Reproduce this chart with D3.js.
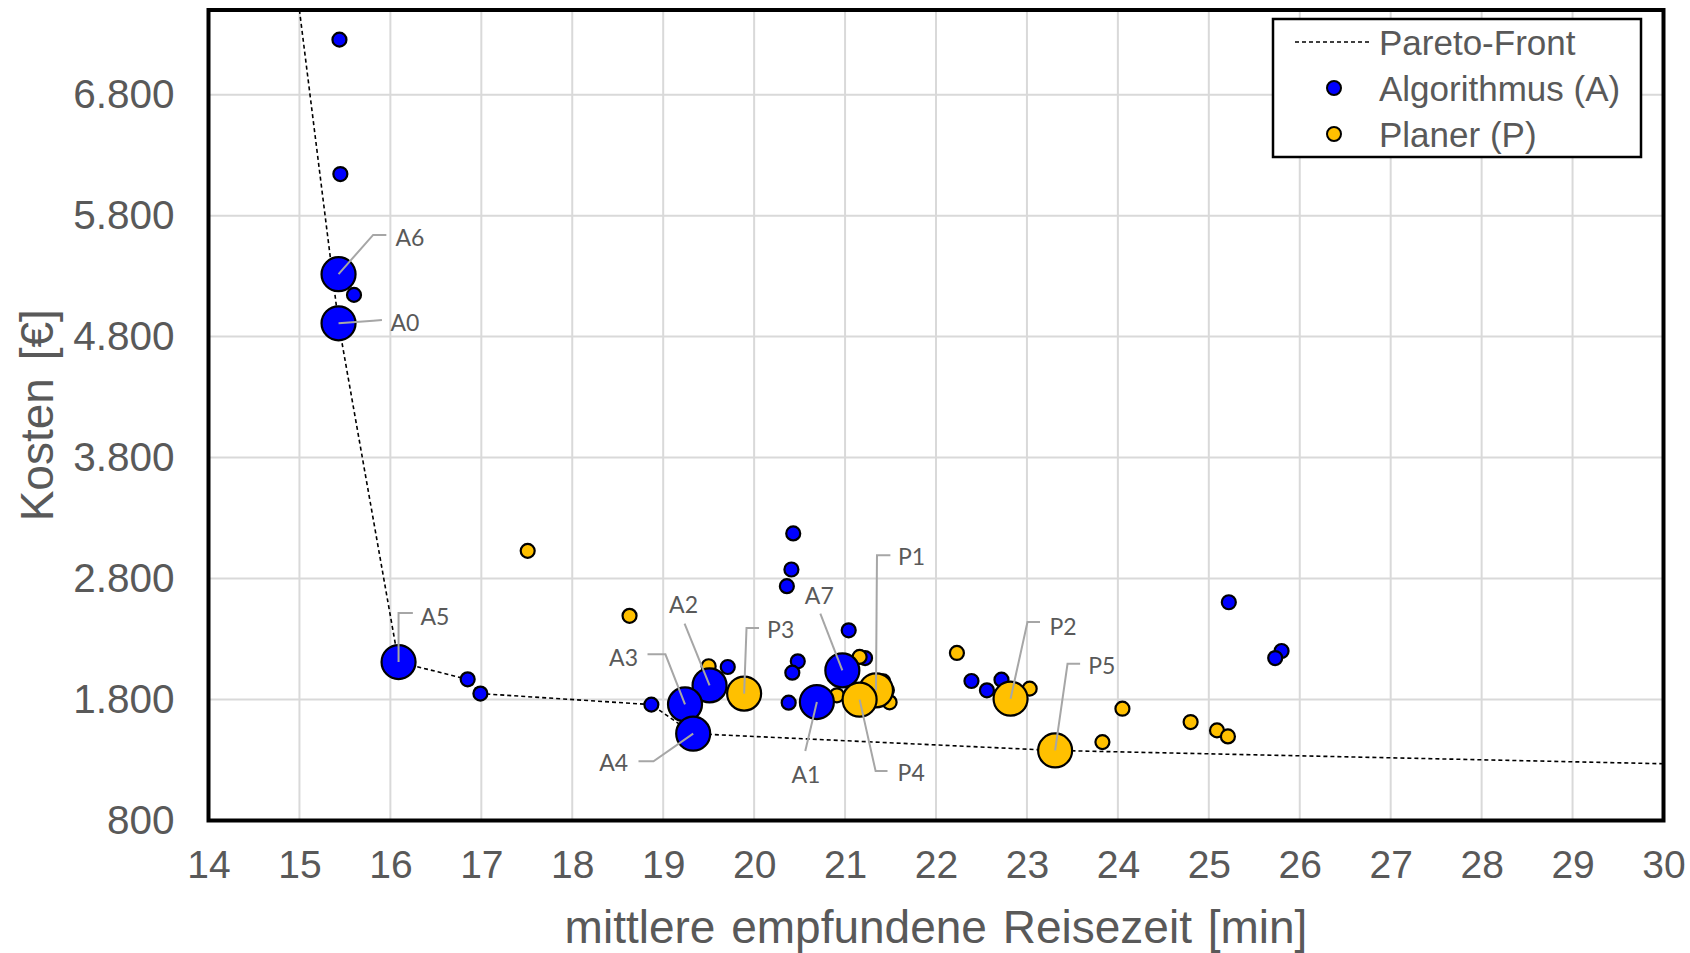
<!DOCTYPE html>
<html>
<head>
<meta charset="utf-8">
<script src="https://cdn.jsdelivr.net/npm/d3@7"></script>
<style>
  body { margin: 0; background: #ffffff; }
  svg { display: block; }
</style>
</head>
<body>
<svg id="chart"></svg>
<script>
const width = 1690;
const height = 953;
const margin = {top: 10, right: 26.5, bottom: 132.5, left: 208.5};

// Achsen
const xTicks = [14, 15, 16, 17, 18, 19, 20, 21, 22, 23, 24, 25, 26, 27, 28, 29, 30];
const yTicks = [800, 1800, 2800, 3800, 4800, 5800, 6800];

// Algorithmus (A) - unbeschriftete Lösungen
const algoTime = [15.44, 15.45, 15.60, 16.85, 16.99, 18.87, 19.71, 20.36, 20.41, 20.43, 20.48, 20.42, 20.38, 21.04, 21.22, 22.39, 22.56, 22.72, 25.22, 25.80, 25.73];
const algoCost = [7255, 6144, 5145, 1967, 1849, 1758, 2069, 2737, 2875, 3173, 2116, 2022, 1774, 2372, 2143, 1953, 1876, 1964, 2604, 2201, 2143];

// Planer (P) - unbeschriftete Lösungen
const planerTime = [17.51, 18.63, 19.50, 21.16, 20.91, 21.42, 21.49, 21.46, 22.23, 23.03, 23.83, 24.05, 24.80, 25.09, 25.21];
const planerCost = [3029, 2492, 2075, 2152, 1835, 1950, 1777, 1876, 2185, 1890, 1448, 1724, 1614, 1545, 1495];

// beschriftete Lösungen
const algoNames = ["A0", "A1", "A2", "A3", "A4", "A5", "A6", "A7"];
const algoNamedTime = [15.43, 20.69, 19.51, 19.24, 19.33, 16.09, 15.43, 20.97];
const algoNamedCost = [4910, 1779, 1917, 1760, 1518, 2110, 5316, 2041];

const planerNames = ["P1", "P2", "P3", "P4", "P5"];
const planerNamedTime = [21.34, 22.82, 19.89, 21.16, 23.31];
const planerNamedCost = [1876, 1807, 1849, 1799, 1379];

// Pareto-Front
const paretoTime = [15.0, 15.43, 16.09, 16.85, 16.99, 18.87, 19.33, 23.31, 30];
const paretoCost = [7500, 4910, 2110, 1967, 1849, 1758, 1518, 1379, 1269];

// Lage der Beschriftungen (Pixel relativ zum Punkt)
const callouts = {
    A6: {line: [[34.6, -39.3], [47.8, -39.3]], tx: 57, ty: -37, anchor: "start"},
    A0: {line: [[34.6, -2.6], [43.4, -3.3]], tx: 52, ty: -1, anchor: "start"},
    A5: {line: [[0, -49], [14.3, -49]], tx: 22, ty: -46, anchor: "start"},
    A2: {line: [[-25, -61.7]], tx: -26, ty: -81, anchor: "middle"},
    A3: {line: [[-19.6, -50], [-37.5, -50]], tx: -47, ty: -47, anchor: "end"},
    A4: {line: [[-39.7, 27.7], [-54.7, 27.7]], tx: -65, ty: 28, anchor: "end"},
    P3: {line: [[2.4, -65.6], [14.9, -65.6]], tx: 23, ty: -65, anchor: "start"},
    A7: {line: [[-22, -56.7]], tx: -23, ty: -75, anchor: "middle"},
    P1: {line: [[1, -135], [14.4, -135]], tx: 22, ty: -134, anchor: "start"},
    A1: {line: [[-11.6, 49]], tx: -11, ty: 72, anchor: "middle"},
    P4: {line: [[16, 71.4], [27.9, 71.4]], tx: 38, ty: 72, anchor: "start"},
    P2: {line: [[16.9, -76.6], [29.4, -76.6]], tx: 39, ty: -73, anchor: "start"},
    P5: {line: [[12.4, -86.7], [25, -86.7]], tx: 33, ty: -85, anchor: "start"}
};

const BLUE = "#0000ff";
const ORANGE = "#ffc000";
const TEXT = "#595959";
const GRID = "#d9d9d9";

const de = d3.formatLocale({decimal: ",", thousands: ".", grouping: [3], currency: ["", " €"]});
const fmtCost = de.format(",d");

const svg = d3.select("#chart").attr("width", width).attr("height", height);

const x = d3.scaleLinear().domain([14, 30]).range([margin.left, width - margin.right]);
const y = d3.scaleLinear().domain([800, 7500]).range([height - margin.bottom, margin.top]);

svg.append("defs").append("clipPath").attr("id", "plot-clip")
    .append("rect")
    .attr("x", x(14)).attr("y", y(7500))
    .attr("width", x(30) - x(14)).attr("height", y(800) - y(7500));

// Gitter
const grid = svg.append("g");
grid.selectAll(".vgrid").data(xTicks).enter().append("line")
    .attr("x1", d => x(d)).attr("x2", d => x(d))
    .attr("y1", y(800)).attr("y2", y(7500))
    .style("stroke", GRID).style("stroke-width", "2px");
grid.selectAll(".hgrid").data(yTicks).enter().append("line")
    .attr("x1", x(14)).attr("x2", x(30))
    .attr("y1", d => y(d)).attr("y2", d => y(d))
    .style("stroke", GRID).style("stroke-width", "2px");

// Achsen (nur Beschriftung, Linien übernimmt der Rahmen)
const xAxis = svg.append("g")
    .attr("transform", "translate(0," + y(800) + ")")
    .call(d3.axisBottom(x).tickValues(xTicks).tickFormat(d3.format("d")).tickSize(0).tickPadding(30));
const yAxis = svg.append("g")
    .attr("transform", "translate(" + x(14) + ",0)")
    .call(d3.axisLeft(y).tickValues(yTicks).tickFormat(fmtCost).tickSize(0).tickPadding(34));
[xAxis, yAxis].forEach(a => {
    a.select(".domain").remove();
    a.selectAll("text")
        .style("font-family", "'Liberation Sans', Arial, sans-serif")
        .style("fill", TEXT);
});
xAxis.selectAll("text").style("font-size", "39px");
yAxis.selectAll("text").style("font-size", "40.5px");

// Pareto-Front
const line = d3.line().x(d => x(d[0])).y(d => y(d[1]));
svg.append("path")
    .datum(d3.zip(paretoTime, paretoCost))
    .attr("clip-path", "url(#plot-clip)")
    .attr("d", line)
    .style("fill", "none")
    .style("stroke", "#000")
    .style("stroke-width", "1.6px")
    .style("stroke-dasharray", "4,3");

// Punkte
function drawPoints(times, costs, color, r) {
    svg.append("g").selectAll("circle")
        .data(d3.zip(times, costs))
        .enter().append("circle")
        .attr("cx", d => x(d[0]))
        .attr("cy", d => y(d[1]))
        .attr("r", r)
        .style("fill", color)
        .style("stroke", "#000")
        .style("stroke-width", "2.2px");
}
drawPoints(algoTime, algoCost, BLUE, 7);
drawPoints(planerTime, planerCost, ORANGE, 7);
drawPoints(algoNamedTime, algoNamedCost, BLUE, 17);
drawPoints(planerNamedTime, planerNamedCost, ORANGE, 17);

// Beschriftungen mit Führungslinien
const named = d3.zip(algoNames, algoNamedTime, algoNamedCost)
    .concat(d3.zip(planerNames, planerNamedTime, planerNamedCost));
const labels = svg.append("g");
named.forEach(([name, t, c]) => {
    const px = x(t), py = y(c);
    const cfg = callouts[name];
    const pts = [[px, py]].concat(cfg.line.map(p => [px + p[0], py + p[1]]));
    labels.append("path")
        .attr("d", d3.line()(pts))
        .style("fill", "none")
        .style("stroke", "#a6a6a6")
        .style("stroke-width", "2px");
    labels.append("text")
        .attr("x", px + cfg.tx)
        .attr("y", py + cfg.ty)
        .attr("text-anchor", cfg.anchor)
        .attr("dominant-baseline", "central")
        .style("font-family", "Lato, 'Open Sans', sans-serif")
        .style("font-size", "23px")
        .style("fill", TEXT)
        .text(name);
});

// Rahmen
svg.append("rect")
    .attr("x", x(14)).attr("y", y(7500))
    .attr("width", x(30) - x(14)).attr("height", y(800) - y(7500))
    .style("fill", "none")
    .style("stroke", "#000")
    .style("stroke-width", "4px");

// Achsentitel
svg.append("text")
    .attr("x", (x(14) + x(30)) / 2)
    .attr("y", 943)
    .attr("text-anchor", "middle")
    .style("font-family", "'Liberation Sans', Arial, sans-serif")
    .style("font-size", "46px")
    .style("word-spacing", "3px")
    .style("fill", TEXT)
    .text("mittlere empfundene Reisezeit [min]");
svg.append("text")
    .attr("transform", "translate(53," + ((y(800) + y(7500)) / 2) + ") rotate(-90)")
    .attr("text-anchor", "middle")
    .style("font-family", "'Liberation Sans', Arial, sans-serif")
    .style("font-size", "46px")
    .style("word-spacing", "5px")
    .style("fill", TEXT)
    .text("Kosten [€]");

// Legende
const legend = svg.append("g").attr("transform", "translate(1273,19)");
legend.append("rect")
    .attr("width", 368).attr("height", 138)
    .style("fill", "#fff")
    .style("stroke", "#000")
    .style("stroke-width", "2.5px");
const legendItems = ["Pareto-Front", "Algorithmus (A)", "Planer (P)"];
legendItems.forEach((name, i) => {
    const cy = 23 + i * 46;
    if (i === 0) {
        legend.append("line")
            .attr("x1", 22).attr("x2", 97).attr("y1", cy).attr("y2", cy)
            .style("stroke", "#000").style("stroke-width", "1.6px")
            .style("stroke-dasharray", "4,3");
    } else {
        legend.append("circle")
            .attr("cx", 61).attr("cy", cy).attr("r", 7)
            .style("fill", i === 1 ? BLUE : ORANGE)
            .style("stroke", "#000").style("stroke-width", "2px");
    }
    legend.append("text")
        .attr("x", 106).attr("y", cy)
        .attr("dominant-baseline", "central")
        .style("font-family", "'Liberation Sans', Arial, sans-serif")
        .style("font-size", "35px")
        .style("fill", TEXT)
        .text(name);
});
</script>
</body>
</html>
